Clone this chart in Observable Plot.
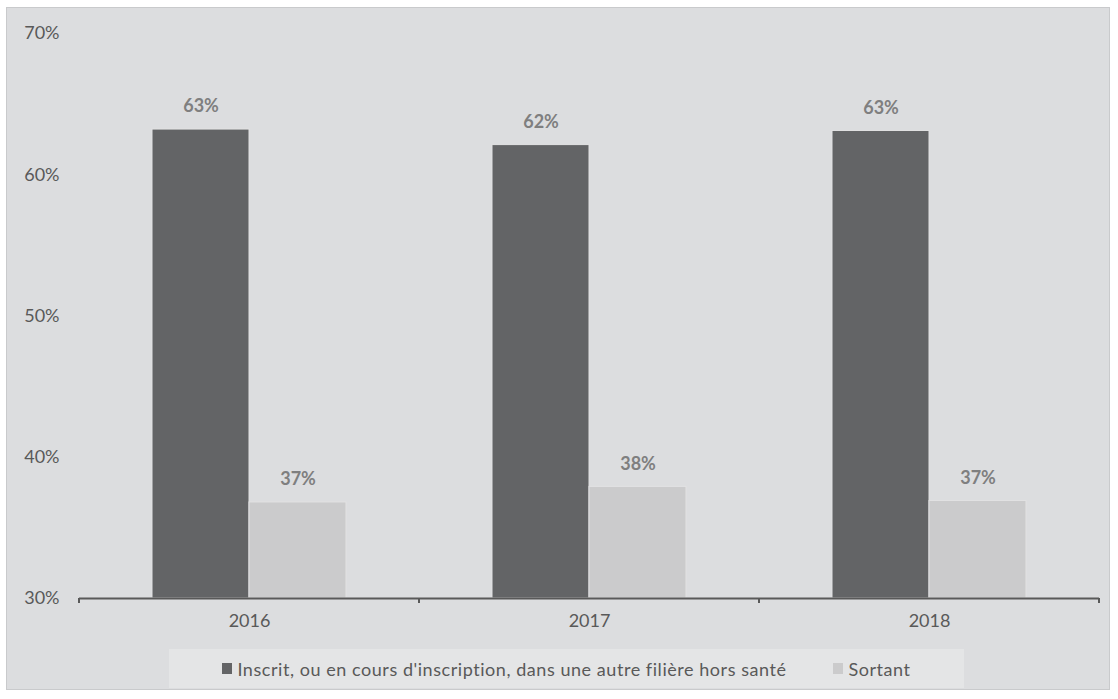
<!DOCTYPE html>
<html>
<head>
<meta charset="utf-8">
<script src="https://cdn.jsdelivr.net/npm/d3@7"></script>
<script src="https://cdn.jsdelivr.net/npm/@observablehq/plot@0.6"></script>
<style>
  html, body { margin: 0; padding: 0; background: #ffffff; }
  #frame {
    position: absolute; left: 6px; top: 7px; width: 1104px; height: 683px;
    background: #dcdddf; border: 1px solid #c9cacc; box-sizing: border-box;
  }
  #chart { position: absolute; left: 0; top: 0; }
  #legend {
    position: absolute; left: 169px; top: 649px; width: 795px; height: 39px;
    background: #e4e5e6; font-family: Lato, "Open Sans", sans-serif; font-size: 18px;
    letter-spacing: 0.55px;
    color: #595959; display: flex; align-items: center; justify-content: center; gap: 0;
  }
  .item { display: flex; align-items: center; }
  .sw { width: 10px; height: 11px; margin-right: 5px; }
</style>
</head>
<body>
<div id="frame"></div>
<div id="chart"></div>
<div id="legend"></div>
<script>
const years = ["2016", "2017", "2018"];
const seriesNames = ["Inscrit, ou en cours d'inscription, dans une autre filière hors santé", "Sortant"];
const inscrit = [63.2, 62.1, 63.1];
const sortant = [36.8, 37.9, 36.9];
const inscritLabels = ["63%", "62%", "63%"];
const sortantLabels = ["37%", "38%", "37%"];
const yTicks = [30, 40, 50, 60, 70];
const colors = ["#636466", "#cbcbcc"];

const data = [];
years.forEach((y, i) => {
  data.push({year: y, series: seriesNames[0], value: inscrit[i], label: inscritLabels[i]});
  data.push({year: y, series: seriesNames[1], value: sortant[i], label: sortantLabels[i]});
});

const font = "Lato, 'Open Sans', sans-serif";
const svg = Plot.plot({
  width: 1118,
  height: 640,
  marginLeft: 78,
  marginRight: 18,
  marginTop: 33,
  marginBottom: 42,
  style: {background: "transparent", fontFamily: font, fontSize: "18px", color: "#595959", overflow: "visible"},
  fx: {domain: years, padding: 0, axis: "bottom", label: null, tickSize: 0, tickPadding: 16},
  x: {domain: seriesNames, axis: null, paddingInner: 0, paddingOuter: 0.75},
  y: {domain: [30, 70], ticks: yTicks, tickFormat: d => d + "%", label: null, tickSize: 0, tickPadding: 20},
  color: {domain: seriesNames, range: colors},
  marks: [
    Plot.barY(data, {fx: "year", x: "series", y1: 30, y2: "value", fill: "series", stroke: "#e2e2e3", strokeWidth: 1}),
    Plot.text(data, {fx: "year", x: "series", y: "value", text: "label", dy: -23, fill: "#7f7f7f", fontWeight: "bold", fontSize: 18})
  ]
});
document.getElementById("chart").appendChild(svg);

// Excel-style axis line with ticks at category boundaries
const fx = svg.scale("fx");
const yS = svg.scale("y");
const y0 = yS.apply(30);
const bounds = years.map((y) => fx.apply(y)).concat([fx.apply(years[years.length - 1]) + fx.bandwidth]);
const g = d3.select(svg).append("g").attr("stroke", "#595959");
g.append("line").attr("x1", bounds[0]).attr("x2", bounds[bounds.length - 1]).attr("y1", y0 + 0.5).attr("y2", y0 + 0.5).attr("stroke-width", 2);
bounds.forEach(b => g.append("line").attr("x1", b).attr("x2", b).attr("y1", y0).attr("y2", y0 + 5).attr("stroke-width", 2));

// legend
const legend = d3.select("#legend");
seriesNames.forEach((s, i) => {
  const it = legend.append("div").attr("class", "item").style("margin-right", i === 0 ? "47px" : "0");
  it.append("div").attr("class", "sw").style("background", colors[i]);
  it.append("span").text(s);
});
</script>
</body>
</html>
